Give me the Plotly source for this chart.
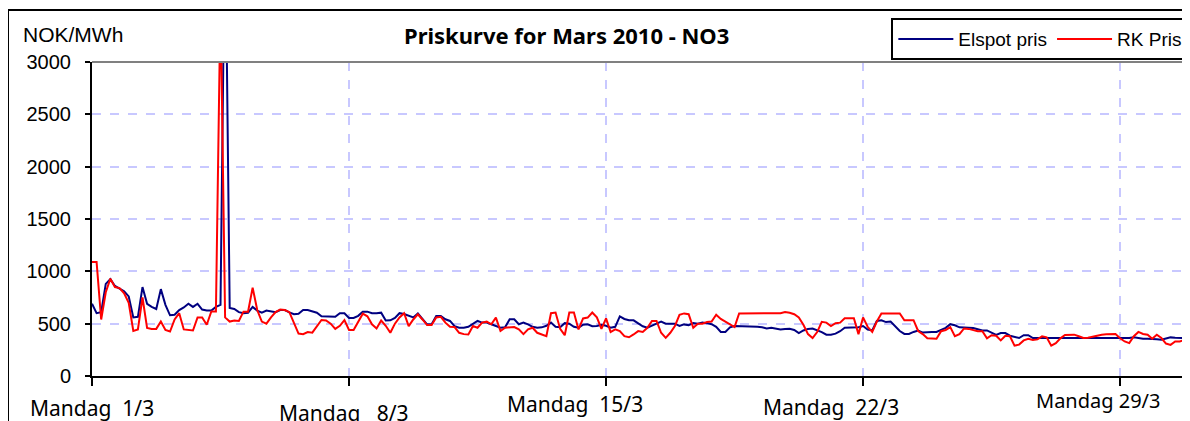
import plotly.graph_objects as go
import pandas as pd

# timeline: 3-hour samples starting Monday 1 March 2010
start = "2010-03-01"
step = "3h"

# Elspot pris, NOK/MWh, every 3 hours
elspot = [
    690, 600, 610, 880, 925, 860, 835, 810,
    760, 560, 565, 850, 690, 660, 640, 830,
    680, 580, 585, 630, 655, 690, 660, 690,
    635, 625, 625, 660, 680, 4500, 650, 640,
    610, 600, 605, 660, 625, 605, 625, 620,
    610, 630, 630, 608, 590, 595, 630, 630,
    615, 605, 570, 570, 565, 565, 600, 600,
    555, 555, 575, 615, 615, 600, 600, 605,
    530, 532, 555, 600, 592, 574, 560, 597,
    540, 494, 494, 574, 574, 542, 526, 477,
    461, 461, 470, 500, 526, 510, 510, 494,
    477, 461, 465, 542, 542, 494, 510, 494,
    470, 461, 465, 480, 510, 470, 465, 505,
    500, 470, 461, 490, 494, 475, 477, 490,
    480, 461, 470, 570, 545, 532, 532, 500,
    475, 461, 477, 500, 520, 500, 500, 500,
    478, 493, 485, 505, 500, 510, 505, 495,
    470, 421, 421, 465, 477, 477, 475, 470,
    477, 470, 465, 455, 460, 455, 444, 450,
    452, 440, 410, 435, 450, 454, 440, 420,
    395, 395, 405, 428, 461, 461, 461, 465,
    477, 444, 435, 526, 533, 515, 520, 478,
    430, 402, 402, 421, 435, 415, 421, 421,
    421, 440, 460, 495, 485, 465, 460, 462,
    458, 444, 435, 435, 410, 392, 410, 410,
    385, 375, 363, 390, 390, 363, 363, 363,
    363, 363, 363, 363, 363, 363, 363, 363,
    363, 363, 363, 363, 363, 363, 363, 363,
    360, 356, 362, 369, 362, 356, 356, 356,
    352, 346, 360, 369, 365, 363, 363, 363,
]

# RK Pris, NOK/MWh, every 3 hours
rk_pris = [
    1090, 1090, 540, 800, 930, 850, 840, 790,
    700, 430, 445, 750, 460, 450, 450, 520,
    440, 425, 540, 600, 445, 440, 435, 560,
    560, 490, 616, 616, 3600, 560, 520, 530,
    526, 615, 615, 844, 630, 520, 500, 560,
    610, 635, 630, 610, 500, 405, 400, 420,
    414, 480, 535, 530, 500, 450, 480, 534,
    440, 440, 520, 595, 570, 494, 455, 530,
    480, 413, 500, 560, 600, 477, 540, 590,
    540, 487, 487, 560, 565, 510, 470, 468,
    413, 400, 397, 477, 461, 510, 519, 494,
    558, 430, 461, 468, 468, 445, 400, 445,
    461, 413, 395, 381, 600, 606, 450, 390,
    606, 606, 445, 550, 558, 606, 560, 450,
    550, 420, 445, 429, 381, 370, 397, 429,
    420, 460, 526, 526, 413, 365, 413, 477,
    585, 598, 590, 460, 500, 500, 515, 520,
    585, 545, 520, 490, 467, 598, 598, 598,
    598, 598, 598, 598, 595, 598, 600, 612,
    605, 590, 560, 490, 400, 363, 420, 518,
    510, 477, 505, 510, 552, 552, 552, 400,
    560, 470, 421, 520, 598, 598, 598, 598,
    598, 533, 533, 533, 430, 400, 360, 356,
    356, 428, 440, 467, 380, 400, 454, 450,
    440, 428, 428, 360, 389, 385, 340, 385,
    380, 290, 300, 340, 355, 345, 350, 379,
    370, 290, 314, 360, 392, 395, 395, 380,
    363, 365, 375, 389, 395, 398, 402, 400,
    360, 330, 314, 380, 421, 402, 395, 356,
    395, 363, 310, 297, 330, 330, 345, 356,
]

week_ticks = ["2010-03-01", "2010-03-08", "2010-03-15", "2010-03-22", "2010-03-29"]
week_labels = ["Mandag&nbsp; 1/3", "Mandag&nbsp;&nbsp; 8/3", "Mandag&nbsp; 15/3",
               "Mandag&nbsp; 22/3", "Mandag 29/3"]
y_ticks = [0, 500, 1000, 1500, 2000, 2500, 3000]

times = pd.date_range(start, periods=len(elspot), freq=step)

fig = go.Figure()
fig.add_trace(go.Scatter(x=times, y=elspot, mode="lines", name="Elspot pris",
                         line=dict(color="#000080", width=2)))
fig.add_trace(go.Scatter(x=times, y=rk_pris, mode="lines", name="RK Pris",
                         line=dict(color="#ff0000", width=2)))

grid = "#c8c8ff"
# the page puts the plot 8px in from the corner, so the figure is 8px smaller
fig.update_layout(
    width=1182, height=413,
    margin=dict(l=84, r=0, t=54, b=45),
    paper_bgcolor="white", plot_bgcolor="white",
    font=dict(family="Arial, Liberation Sans", size=20, color="black"),
    showlegend=True,
    legend=dict(orientation="h", x=0.728, y=1.14, xanchor="left", yanchor="top",
                bordercolor="black", borderwidth=2, bgcolor="white",
                itemwidth=55, entrywidth=0,
                font=dict(family="Arial, Liberation Sans", size=19)),
)
fig.update_xaxes(
    type="date",
    range=["2010-03-01 00:00", "2010-03-30 21:42"],
    tickvals=week_ticks, showticklabels=False,
    ticks="outside", ticklen=8, tickwidth=1.5, tickcolor="black",
    showline=True, linecolor="black", linewidth=2,
    showgrid=True, gridcolor=grid, griddash="dash", gridwidth=1.5,
)
fig.update_yaxes(
    range=[0, 3000], tickvals=y_ticks,
    ticks="outside", ticklen=5, tickwidth=1.5, tickcolor="black",
    showline=True, linecolor="black", linewidth=2,
    showgrid=True, gridcolor=grid, griddash="dash", gridwidth=1.5,
    zeroline=False, ticklabelstandoff=10,
    tickfont=dict(family="Arial, Liberation Sans", size=20),
)

# staggered week labels under the axis (as in the Excel original)
label_dx = [0, -5, -31, -32, -22]
label_dy = [-32, -37, -28, -31, -24]
label_size = [21, 21, 21, 21, 20]
for t, txt, dx, dy, sz in zip(week_ticks, week_labels, label_dx, label_dy, label_size):
    fig.add_annotation(x=t, y=0, xref="x", yref="paper", text=txt, showarrow=False,
                       xanchor="center", yanchor="middle", xshift=dx, yshift=dy,
                       font=dict(family="Noto Sans, Liberation Sans", size=sz, color="black"))

fig.add_annotation(x=0.4326, y=1, xref="paper", yref="paper", yshift=27,
                   text="<b>Priskurve for Mars 2010 - NO3</b>", showarrow=False,
                   xanchor="center", yanchor="middle",
                   font=dict(family="Noto Sans, Liberation Sans", size=22, color="black"))
fig.add_annotation(x=0, y=1, xref="paper", yref="paper", xshift=-71, yshift=28,
                   text="NOK/MWh", showarrow=False, xanchor="left", yanchor="middle",
                   font=dict(family="Arial, Liberation Sans", size=21, color="black"))

# chart frame and the grey top edge of the plot area
fig.add_shape(type="rect", xref="paper", yref="paper",
              x0=-0.0765, x1=1.05, y0=-0.5, y1=1.1656,
              line=dict(color="black", width=2))
fig.add_shape(type="line", xref="paper", yref="paper", x0=0, x1=1, y0=1, y1=1,
              line=dict(color="#808080", width=2))

fig.write_html("out.html")
